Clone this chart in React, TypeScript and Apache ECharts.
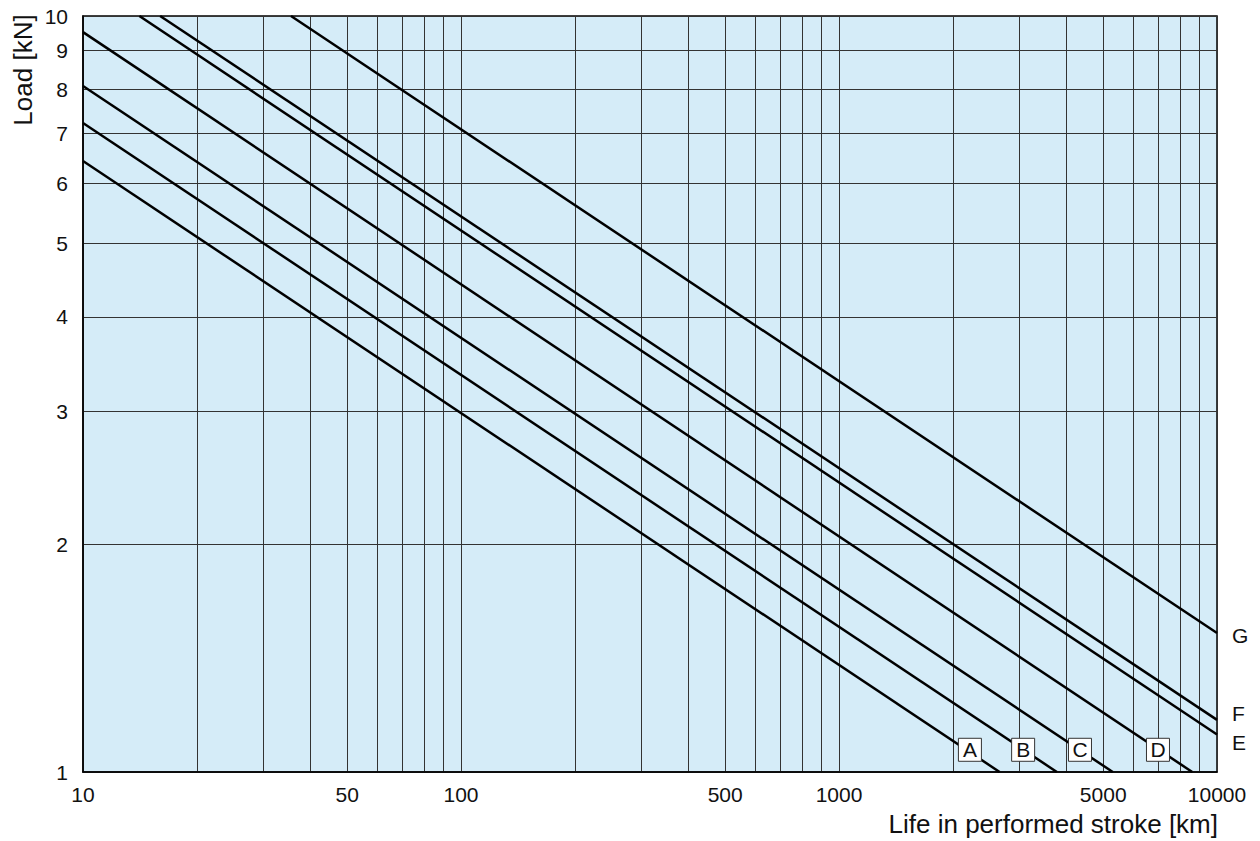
import React, { useEffect, useRef } from "react";
import * as echarts from "echarts";

// Lines (life in km, load in kN) read at their visible ends
const lineNames = ["A", "B", "C", "D", "E", "F", "G"];
const lifeStart = [10, 10, 10, 10, 14.1, 16.0, 35.5];
const loadStart = [6.43, 7.22, 8.08, 9.52, 10, 10, 10];
const lifeEnd = [2660, 3770, 5300, 8600, 10000, 10000, 10000];
const loadEnd = [1, 1, 1, 1, 1.121, 1.172, 1.527];

// Boxed labels on lines A-D
const boxNames = ["A", "B", "C", "D"];
const boxLife = [2220, 3070, 4340, 6980];
const boxLoad = [1.07, 1.07, 1.07, 1.07];

// Axis ticks / labels
const xGridValues = [10, 20, 30, 40, 50, 60, 70, 80, 90, 100, 200, 300, 400, 500, 600, 700, 800, 900, 1000, 2000, 3000, 4000, 5000, 6000, 7000, 8000, 9000, 10000];
const xLabelValues = [10, 50, 100, 500, 1000, 5000, 10000];
const yGridValues = [1, 2, 3, 4, 5, 6, 7, 8, 9, 10];
const yLabelValues = [1, 2, 3, 4, 5, 6, 7, 8, 9, 10];

const FONT = "'Liberation Sans', Arial, Helvetica, sans-serif";

export default function App() {
  const ref = useRef<HTMLDivElement>(null);
  useEffect(() => {
    if (!ref.current) return;
    const chart = echarts.init(ref.current, undefined, { renderer: "svg" });
    const endOffsets: Record<string, number[]> = { E: [0, 8], F: [0, -6], G: [0, 2] };
    const lineSeries = lineNames.map((name, i) => ({
      type: "line",
      name,
      data: [
        [lifeStart[i], loadStart[i]],
        [lifeEnd[i], loadEnd[i]],
      ],
      symbol: "none",
      silent: true,
      z: 3,
      lineStyle: { color: "#000", width: 2.5 },
      endLabel: endOffsets[name]
        ? {
            show: true,
            formatter: name,
            distance: 15,
            offset: endOffsets[name],
            fontSize: 21,
            fontFamily: FONT,
            color: "#111",
          }
        : { show: false },
    }));
    chart.setOption({
      animation: false,
      textStyle: { fontFamily: FONT },
      grid: {
        left: 83,
        right: 43,
        top: 16,
        bottom: 69,
        show: true,
        backgroundColor: "#d5ecf8",
        borderColor: "#000",
        borderWidth: 1.5,
        containLabel: false,
      },
      xAxis: {
        type: "log",
        logBase: 10,
        min: 10,
        max: 10000,
        axisLine: { show: true, lineStyle: { color: "#000", width: 1.5 } },
        axisTick: { show: false, customValues: xGridValues },
        minorTick: { show: false },
        axisLabel: {
          customValues: xLabelValues,
          formatter: (v: number) => String(Math.round(v)),
          fontSize: 21,
          fontFamily: FONT,
          color: "#111",
          margin: 12,
        },
        splitLine: { show: true, lineStyle: { color: "#333", width: 1 } },
      },
      yAxis: {
        type: "log",
        logBase: 10,
        min: 1,
        max: 10,
        axisLine: { show: true, lineStyle: { color: "#000", width: 1.5 } },
        axisTick: { show: false, customValues: yGridValues },
        minorTick: { show: false },
        axisLabel: {
          customValues: yLabelValues,
          formatter: (v: number) => String(Math.round(v)),
          fontSize: 21,
          fontFamily: FONT,
          color: "#111",
          margin: 15,
        },
        splitLine: { show: true, lineStyle: { color: "#333", width: 1 } },
      },
      graphic: [
        {
          type: "text",
          x: 23,
          y: 70,
          rotation: Math.PI / 2,
          style: {
            text: "Load [kN]",
            fontSize: 26,
            fontFamily: FONT,
            fill: "#111",
            textAlign: "center",
            textVerticalAlign: "middle",
          },
        },
        {
          type: "text",
          x: 1218,
          y: 824,
          style: {
            text: "Life in performed stroke [km]",
            fontSize: 26,
            fontFamily: FONT,
            fill: "#111",
            textAlign: "right",
            textVerticalAlign: "middle",
          },
        },
      ],
      series: [
        ...lineSeries,
        {
          type: "scatter",
          name: "boxes",
          silent: true,
          z: 5,
          symbol: "rect",
          symbolSize: [23, 23],
          itemStyle: { color: "#fff", borderColor: "#333", borderWidth: 1, opacity: 1 },
          label: {
            show: true,
            position: "inside",
            formatter: (p: any) => boxNames[p.dataIndex],
            fontSize: 21,
            fontFamily: FONT,
            color: "#111",
          },
          data: boxLife.map((x, i) => [x, boxLoad[i]]),
        },
      ],
    });
    return () => chart.dispose();
  }, []);
  return (
    <div
      ref={ref}
      style={{ position: "fixed", left: 0, top: 0, width: 1260, height: 841, background: "#fff" }}
    />
  );
}
